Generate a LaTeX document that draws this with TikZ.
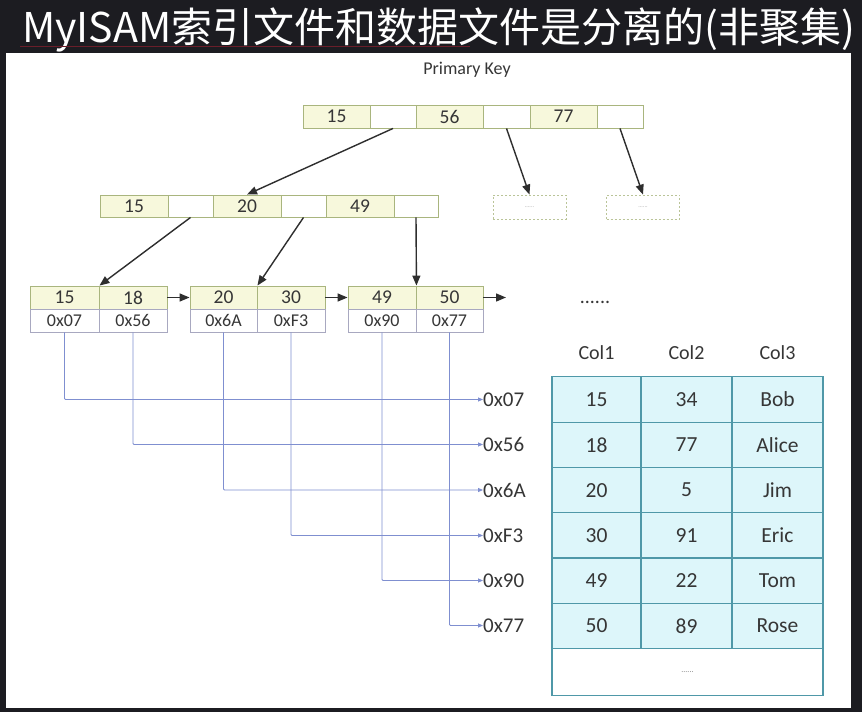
\documentclass[tikz,border=0pt]{standalone}
\usepackage{fontspec}
\setmainfont{Carlito}
\newfontfamily\cjkfont{Noto Sans CJK SC}
\usetikzlibrary{arrows.meta}
\definecolor{bgdark}{HTML}{1C1C21}
\definecolor{keyfill}{HTML}{F7F8DC}
\definecolor{keyedge}{HTML}{A9B57E}
\definecolor{addredge}{HTML}{A8A8C0}
\definecolor{ptrblue}{HTML}{7F8FD0}
\definecolor{tabfill}{HTML}{DDF6FA}
\definecolor{tabedge}{HTML}{4F98A8}
\definecolor{txt}{HTML}{363636}
\definecolor{squig}{HTML}{6A1E2A}
\tikzset{
  cellbase/.style={inner sep=0pt, line width=0.9pt, text=txt, font=\fontsize{19.5}{19.5}\selectfont},
  kcell/.style={cellbase, draw=keyedge, fill=keyfill, minimum height=23pt},
  pcell/.style={cellbase, draw=keyedge, fill=white, minimum height=23pt},
  acell/.style={cellbase, draw=addredge, fill=white, minimum height=23pt, font=\fontsize{18}{18}\selectfont},
  ghost/.style={draw=keyedge!80, dashed, dash pattern=on 2pt off 2pt, line width=0.8pt, fill=white, minimum width=73pt, minimum height=24pt, inner sep=0pt, text=gray!70, font=\fontsize{6}{6}\selectfont},
  tcell/.style={draw=tabedge, fill=tabfill, line width=1.2pt, inner sep=0pt, minimum height=45.3pt, text=txt, font=\fontsize{21.5}{21.5}\selectfont},
  hdr/.style={text=txt, font=\fontsize{20}{20}\selectfont, inner sep=0pt},
  addr/.style={text=txt, font=\fontsize{21}{21}\selectfont, inner sep=0pt, anchor=west},
  bigarrow/.style={draw=black!82, line width=1.4pt, -{Triangle[length=10pt,width=8pt]}},
  ptrline/.style={draw=ptrblue, line width=0.8pt, rounded corners=1pt, -{Triangle[length=5pt,width=4pt]}},
}
\begin{document}
\begin{tikzpicture}[x=1pt,y=-1pt]
\useasboundingbox (0,0) rectangle (862,712);
\fill[bgdark] (0,0) rectangle (862,712);
\fill[white] (6,53) rectangle (851,708);
% title
\node[anchor=base west, inner sep=0pt, text=white, font=\cjkfont\fontsize{41}{41}\selectfont] (title) at (22,42) {MyISAM索引文件和数据文件是分离的(非聚集)};
\draw[squig, line width=1pt] (20,46) -- (470,46);
% Primary key label
\node[hdr, font=\fontsize{18}{18}\selectfont] (pk) at (467,70) {Primary Key};
% root
\node[kcell, minimum width=67pt] (r1) at (336.5,116.5) {15};
\node[pcell, minimum width=46pt] (rp1) at (393,116.5) {};
\node[kcell, minimum width=67pt] (r2) at (449.5,116.5) {56};
\node[pcell, minimum width=47pt] (rp2) at (506.5,116.5) {};
\node[kcell, minimum width=67pt] (r3) at (563.5,116.5) {77};
\node[pcell, minimum width=46pt] (rp3) at (620,116.5) {};
% middle
\node[kcell, minimum width=68pt, minimum height=22pt] (m1) at (134,206) {15};
\node[pcell, minimum width=45pt, minimum height=22pt] (mp1) at (190.5,206) {};
\node[kcell, minimum width=68pt, minimum height=22pt] (m2) at (247,206) {20};
\node[pcell, minimum width=45pt, minimum height=22pt] (mp2) at (303.5,206) {};
\node[kcell, minimum width=68pt, minimum height=22pt] (m3) at (360,206) {49};
\node[pcell, minimum width=44pt, minimum height=22pt] (mp3) at (416,206) {};
% ghost nodes
\node[ghost] (g1) at (529.5,207) {......};
\node[ghost] (g2) at (643,207) {......};
% leaves
\node[kcell, minimum width=69pt] (l1a) at (64.5,297.5) {15};
\node[kcell, minimum width=68pt] (l1b) at (133,297.5) {18};
\node[acell, minimum width=69pt] (a1) at (64.5,320.5) {0x07};
\node[acell, minimum width=68pt] (a2) at (133,320.5) {0x56};
\node[kcell, minimum width=67pt] (l2a) at (223.5,297.5) {20};
\node[kcell, minimum width=68pt] (l2b) at (291,297.5) {30};
\node[acell, minimum width=67pt] (a3) at (223.5,320.5) {0x6A};
\node[acell, minimum width=68pt] (a4) at (291,320.5) {0xF3};
\node[kcell, minimum width=68pt] (l3a) at (382,297.5) {49};
\node[kcell, minimum width=67pt] (l3b) at (449.5,297.5) {50};
\node[acell, minimum width=68pt] (a5) at (382,320.5) {0x90};
\node[acell, minimum width=67pt] (a6) at (449.5,320.5) {0x77};
\coordinate (lend) at (506,297.5);
% tree arrows
\draw[bigarrow] (rp1.south) -- (m2.north);
\draw[bigarrow] (rp2.south) -- (g1.north);
\draw[bigarrow] (rp3.south) -- (g2.north);
\draw[bigarrow] (mp1.south) -- (l1a.north east);
\draw[bigarrow] (mp2.south) -- (l2a.north east);
\draw[bigarrow] (mp3.south) -- (l3a.north east);
\draw[bigarrow] (l1b.east) -- (l2a.west);
\draw[bigarrow] (l2b.east) -- (l3a.west);
\draw[bigarrow] (l3b.east) -- (lend);
% address labels
\node[addr] (p1) at (483,399.5) {0x07};
\node[addr] (p2) at (483,444.5) {0x56};
\node[addr] (p3) at (483,490) {0x6A};
\node[addr] (p4) at (483,535.5) {0xF3};
\node[addr] (p5) at (483,580.5) {0x90};
\node[addr] (p6) at (483,625.5) {0x77};
\draw[ptrline] (a1.south) |- (p1.west);
\draw[ptrline] (a2.south) |- (p2.west);
\draw[ptrline] (a3.south) |- (p3.west);
\draw[ptrline] (a4.south) |- (p4.west);
\draw[ptrline] (a5.south) |- (p5.west);
\draw[ptrline] (a6.south) |- (p6.west);
% table
\node[font=\fontsize{20}{20}\selectfont, text=txt] (dots) at (595,302) {......};
\node[hdr] (c1) at (596.5,353) {Col1};
\node[hdr] (c2) at (686.5,353) {Col2};
\node[hdr] (c3) at (777.5,353) {Col3};
\foreach \y/\a/\b/\c [count=\i] in {399.5/15/34/Bob, 444.8/18/77/Alice, 490.1/20/5/Jim, 535.4/30/91/Eric, 580.7/49/22/Tom, 626/50/89/Rose}{
  \node[tcell, minimum width=89pt] (t\i a) at (596.5,\y) {\a};
  \node[tcell, minimum width=91pt] (t\i b) at (686.5,\y) {\b};
  \node[tcell, minimum width=91pt] (t\i c) at (777.5,\y) {\c};
}
\node[tcell, fill=white, minimum width=271pt, minimum height=47pt, font=\fontsize{8}{8}\selectfont, text=gray] (tlast) at (687.5,672) {......};
\end{tikzpicture}
\end{document}
